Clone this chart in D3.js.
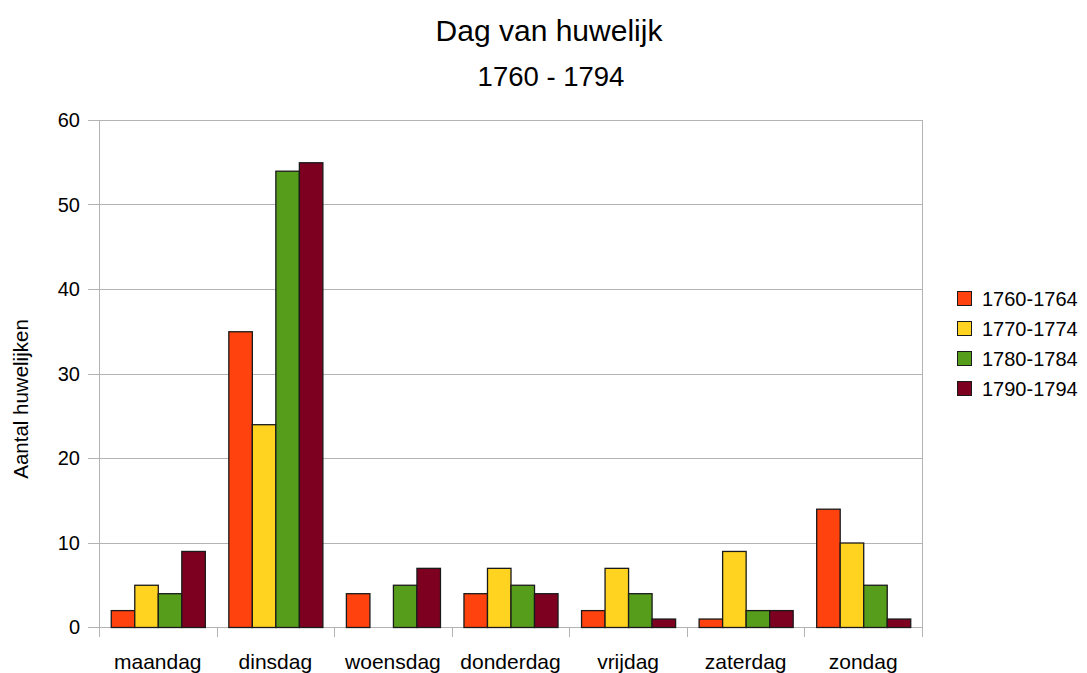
<!DOCTYPE html>
<html>
<head>
<meta charset="utf-8">
<script src="https://cdn.jsdelivr.net/npm/d3@7"></script>
<style>
  body { margin: 0; background: #fff; }
  svg { display: block; font-family: "Liberation Sans", Arial, sans-serif; }
</style>
</head>
<body>
<svg id="chart" width="1087" height="673"></svg>
<script>
const categories = ["maandag", "dinsdag", "woensdag", "donderdag", "vrijdag", "zaterdag", "zondag"];
const seriesNames = ["1760-1764", "1770-1774", "1780-1784", "1790-1794"];
const s1760 = [2, 35, 4, 4, 2, 1, 14];
const s1770 = [5, 24, 0, 7, 7, 9, 10];
const s1780 = [4, 54, 5, 5, 4, 2, 5];
const s1790 = [9, 55, 7, 4, 1, 2, 1];
const yTicks = [0, 10, 20, 30, 40, 50, 60];
const colors = ["#ff420e", "#ffd320", "#579d1c", "#7e0021"];

const seriesValues = [s1760, s1770, s1780, s1790];
const svg = d3.select("#chart");
const pLeft = 99, pRight = 922, pTop = 120, pBottom = 627;

const x = d3.scaleBand().domain(categories).range([pLeft, pRight]).paddingInner(0).paddingOuter(0);
const xs = d3.scaleBand().domain(seriesNames).range([0, x.bandwidth()]).paddingOuter(0.5).paddingInner(0);
const y = d3.scaleLinear().domain([0, 60]).range([pBottom, pTop]);

// gridlines
svg.append("g").selectAll("line").data(yTicks).join("line")
  .attr("x1", pLeft - 11).attr("x2", pRight)
  .attr("y1", d => Math.round(y(d)) + 0.5).attr("y2", d => Math.round(y(d)) + 0.5)
  .attr("stroke", "#b3b3b3").attr("stroke-width", 1);

// category ticks
const bounds = categories.map(c => x(c)).concat([pRight]);
svg.append("g").selectAll("line").data(bounds).join("line")
  .attr("x1", d => Math.round(d) + 0.5).attr("x2", d => Math.round(d) + 0.5)
  .attr("y1", pBottom).attr("y2", pBottom + 10)
  .attr("stroke", "#b3b3b3");
// axis line and right border
svg.append("line").attr("x1", pLeft + 0.5).attr("x2", pLeft + 0.5).attr("y1", pTop).attr("y2", pBottom + 10).attr("stroke", "#b3b3b3");
svg.append("line").attr("x1", pRight + 0.5).attr("x2", pRight + 0.5).attr("y1", pTop).attr("y2", pBottom + 10).attr("stroke", "#b3b3b3");

// bars
seriesNames.forEach((s, si) => {
  svg.append("g").selectAll("rect").data(categories.map((c, i) => ({c, v: seriesValues[si][i]})).filter(d => d.v > 0)).join("rect")
    .attr("x", d => x(d.c) + xs(s) + 0.5)
    .attr("y", d => y(d.v) + 0.5)
    .attr("width", xs.bandwidth())
    .attr("height", d => y(0) - y(d.v))
    .attr("fill", colors[si])
    .attr("stroke", "#1a1a1a").attr("stroke-width", 1.3);
});

// y tick labels
svg.append("g").selectAll("text").data(yTicks).join("text")
  .attr("x", 80).attr("y", d => y(d) + 7)
  .attr("text-anchor", "end").attr("font-size", 20).attr("fill", "#000")
  .text(d => d);

// x labels
svg.append("g").selectAll("text").data(categories).join("text")
  .attr("x", d => x(d) + x.bandwidth() / 2).attr("y", 669)
  .attr("text-anchor", "middle").attr("font-size", 21).attr("fill", "#000")
  .text(d => d);

// axis title
svg.append("text").attr("transform", "translate(28,399) rotate(-90)")
  .attr("text-anchor", "middle").attr("font-size", 20.5).text("Aantal huwelijken");

// titles
svg.append("text").attr("x", 549).attr("y", 41).attr("text-anchor", "middle").attr("font-size", 30).text("Dag van huwelijk");
svg.append("text").attr("x", 551).attr("y", 86).attr("text-anchor", "middle").attr("font-size", 27.5).text("1760 - 1794");

// legend
const lg = svg.append("g").selectAll("g").data(seriesNames).join("g")
  .attr("transform", (d, i) => `translate(957,${291 + i * 30})`);
lg.append("rect").attr("x", 0.5).attr("y", 0.5).attr("width", 14).attr("height", 14)
  .attr("fill", (d, i) => colors[i]).attr("stroke", "#1a1a1a");
lg.append("text").attr("x", 25).attr("y", 15).attr("font-size", 20).text(d => d);
</script>
</body>
</html>
